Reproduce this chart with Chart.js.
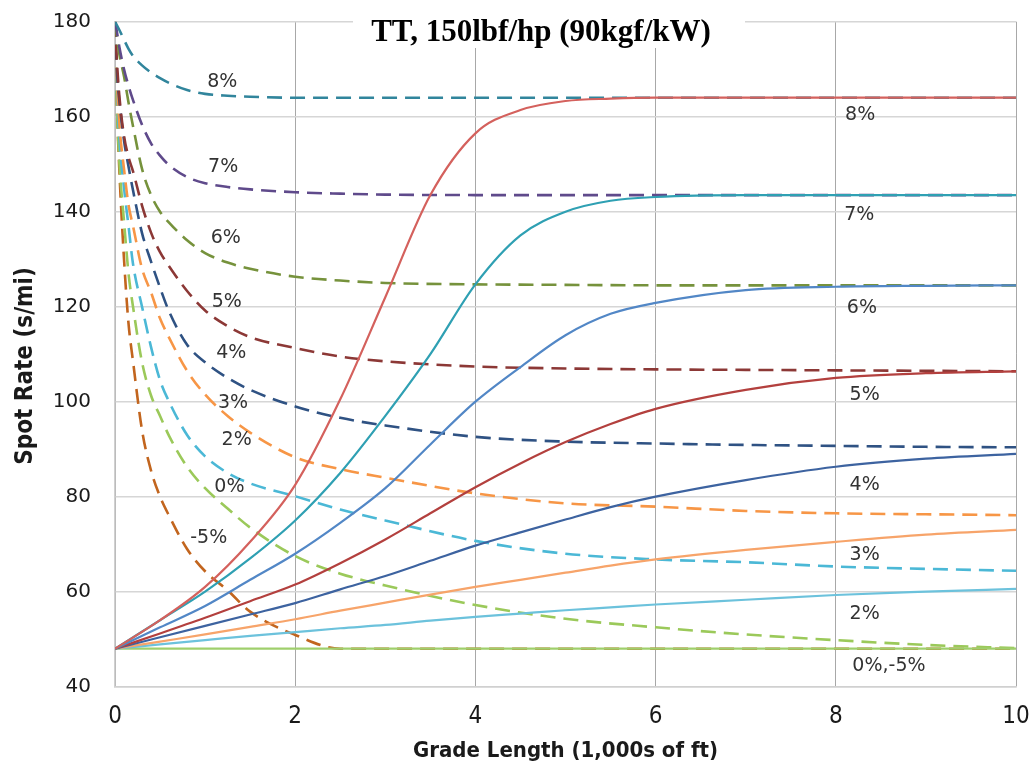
<!DOCTYPE html>
<html>
<head>
<meta charset="utf-8">
<script src="https://cdn.jsdelivr.net/npm/chart.js@4.4.1/dist/chart.umd.min.js"></script>
<style>
  html, body { margin: 0; padding: 0; background: #fff; }
</style>
</head>
<body>
<canvas id="myChart" width="1034" height="767"></canvas>
<script>
// grade length, 1,000s of ft
const decelX = [0, 0.5, 1, 1.5, 2, 2.5, 3, 3.5, 4, 4.5, 5, 5.5, 6, 7, 8, 9, 10];
const accelX = [0, 0.02, 0.05, 0.1, 0.15, 0.2, 0.3, 0.4, 0.5, 0.6, 0.8, 1, 1.25, 1.5, 2, 2.5, 3, 4, 5, 6, 7, 8, 9, 10];

// entering at speed (solid), s/mi
const decel8 = [48, 54, 61, 70.5, 82.5, 100.5, 122, 143.5, 156.5, 161.4, 163.3, 163.8, 164, 164, 164, 164, 164];
const decel7 = [48, 54, 60, 67, 75, 85, 97, 110, 124.7, 135, 140, 142.3, 143.1, 143.5, 143.5, 143.5, 143.5];
const decel6 = [48, 52.5, 57, 62.5, 68, 74.5, 81.8, 91, 100, 107.3, 114, 118.5, 120.8, 123.5, 124.2, 124.4, 124.5];
const decel5 = [48, 51.2, 54.5, 58, 61.5, 66, 71, 76.5, 82, 87, 91.5, 95.3, 98.5, 102.5, 105, 106, 106.4];
const decel4 = [48, 50.4, 52.8, 55.2, 57.6, 60.5, 63.3, 66.5, 69.7, 72.5, 75.2, 77.8, 80, 83.5, 86.3, 88, 89];
const decel3 = [48, 49.5, 51, 52.6, 54.2, 56, 57.7, 59.4, 61, 62.5, 64, 65.5, 66.8, 68.8, 70.5, 72, 73];
const decel2 = [48, 48.9, 49.8, 50.7, 51.5, 52.3, 53, 53.9, 54.7, 55.4, 56.1, 56.7, 57.3, 58.3, 59.3, 60, 60.6];
const decel0 = [48, 48, 48, 48, 48, 48, 48, 48, 48, 48, 48, 48, 48, 48, 48, 48, 48];

// entering from crawl (dashed), s/mi
const accel8 = [180, 179.3, 178.2, 176.2, 174.3, 172.8, 170.8, 169.3, 168.1, 167.1, 165.6, 164.8, 164.4, 164.2, 164, 164, 164, 164, 164, 164, 164, 164, 164, 164];
const accel7 = [180, 178, 174.5, 170, 166.5, 163.5, 158.3, 154.4, 151.8, 149.8, 147.3, 146, 145.2, 144.7, 144.1, 143.8, 143.6, 143.5, 143.5, 143.5, 143.5, 143.5, 143.5, 143.5];
const accel6 = [180, 177, 173, 168.5, 163, 158, 149, 143.5, 140, 137.7, 134, 131.3, 129.3, 128, 126.3, 125.5, 125, 124.7, 124.6, 124.5, 124.5, 124.5, 124.5, 124.5];
const accel5 = [180, 172, 164, 156, 151.5, 148.5, 141.3, 135.6, 131.5, 128.5, 123.3, 119.2, 115.9, 113.6, 111.3, 109.5, 108.5, 107.4, 107, 106.8, 106.7, 106.6, 106.5, 106.4];
const accel4 = [180, 170, 163, 155, 149.5, 144.5, 135.5, 129.5, 124, 119, 112, 108.3, 105, 102.5, 99, 96.6, 95, 92.6, 91.6, 91.2, 90.9, 90.7, 90.5, 90.4];
const accel3 = [180, 168, 158, 149, 141.4, 137, 128, 123, 117.5, 113.5, 106.5, 101.5, 97, 93.5, 88.3, 85.8, 84, 80.7, 78.6, 77.9, 77, 76.5, 76.3, 76.1];
const accel2 = [180, 166, 155, 145, 137, 129, 120, 111.5, 104.5, 100, 93, 88.5, 85, 82.8, 80.1, 77.3, 75, 70.7, 68, 66.8, 66.2, 65.3, 64.8, 64.4];
const accel0 = [180, 163, 150, 138, 127, 120, 108.3, 101.3, 97, 92.8, 86.3, 81.8, 77.5, 73.5, 67.5, 63.8, 61.3, 57.2, 54.3, 52.5, 51, 49.8, 48.8, 48.1];
const accelM5 = [180, 163, 148, 130, 116.5, 108.5, 94, 85.5, 80, 76, 69, 64.3, 60.3, 55.8, 50.9, 48, 48, 48, 48, 48, 48, 48, 48, 48];

const xTicks = [0, 2, 4, 6, 8, 10];
const yTicks = [40, 60, 80, 100, 120, 140, 160, 180];

// curve labels, placed in data units
const noteText = ['8%', '7%', '6%', '5%', '4%', '3%', '2%', '0%', '-5%',
                  '8%', '7%', '6%', '5%', '4%', '3%', '2%', '0%,-5%'];
const noteX = [1.19, 1.2, 1.23, 1.24, 1.29, 1.31, 1.35, 1.27, 1.04,
               8.27, 8.26, 8.29, 8.32, 8.32, 8.32, 8.32, 8.59];
const noteY = [167.2, 149.3, 134.5, 121.0, 110.3, 99.7, 91.9, 82.1, 71.2,
               160.3, 139.2, 119.8, 101.4, 82.5, 67.8, 55.2, 44.3];

function pts(xs, ys) {
  return xs.map((x, i) => ({x: x, y: ys[i]}));
}

function solid(ys, color) {
  return { data: pts(decelX, ys), borderColor: color, borderWidth: 2.2,
           pointRadius: 0, cubicInterpolationMode: 'monotone', fill: false };
}

function dashed(ys, color) {
  return { data: pts(accelX, ys), borderColor: color, borderWidth: 2.6,
           borderDash: [15, 8], pointRadius: 0, cubicInterpolationMode: 'monotone', fill: false };
}

const notesPlugin = {
  id: 'notes',
  afterDatasetsDraw(chart) {
    const c = chart.ctx, sx = chart.scales.x, sy = chart.scales.y;
    c.save();
    c.font = '19px "DejaVu Sans"';
    c.fillStyle = '#333';
    c.textAlign = 'center';
    c.textBaseline = 'middle';
    noteText.forEach((t, i) => {
      c.fillText(t, sx.getPixelForValue(noteX[i]), sy.getPixelForValue(noteY[i]));
    });
    c.restore();
  },
  afterDraw(chart) {
    const c = chart.ctx;
    c.save();
    // chart title sits over the top border
    c.fillStyle = '#fff';
    c.fillRect(353, 10, 392, 38);
    c.font = 'bold 31px "Liberation Serif"';
    c.fillStyle = '#000';
    c.textAlign = 'center';
    c.textBaseline = 'middle';
    c.fillText('TT, 150lbf/hp (90kgf/kW)', 541, 33);
    // y axis title
    c.translate(26, 366);
    c.rotate(-Math.PI / 2);
    c.font = 'bold 24px "DejaVu Sans Condensed"';
    c.fillStyle = '#1a1a1a';
    c.fillText('Spot Rate (s/mi)', 0, 0);
    c.restore();
  }
};

const ctx = document.getElementById('myChart');

new Chart(ctx, {
  type: 'line',
  data: {
    datasets: [
      solid(decel8, '#d4615d'),
      solid(decel7, '#2fa0b3'),
      solid(decel6, '#5287c6'),
      solid(decel5, '#b3403e'),
      solid(decel4, '#3d63a0'),
      solid(decel3, '#f7a46a'),
      solid(decel2, '#6cc2dc'),
      solid(decel0, '#9fcf6c'),
      dashed(accel8, '#31859c'),
      dashed(accel7, '#5f4a8b'),
      dashed(accel6, '#76923c'),
      dashed(accel5, '#8c3836'),
      dashed(accel4, '#2f5283'),
      dashed(accel3, '#f79646'),
      dashed(accel2, '#4bb8d6'),
      dashed(accel0, '#9bc95a'),
      dashed(accelM5, '#c2651e')
    ]
  },
  options: {
    responsive: false,
    animation: false,
    layout: { padding: { top: 21.7, right: 18, left: 0, bottom: 0 } },
    plugins: { legend: { display: false }, tooltip: { enabled: false } },
    scales: {
      x: {
        type: 'linear', min: 0, max: 10,
        afterBuildTicks: s => { s.ticks = xTicks.map(v => ({value: v})); },
        afterFit: s => { s.height = 80.3; s.paddingLeft = 0; s.paddingRight = 0; },
        ticks: { color: '#1a1a1a', padding: 16, font: { family: 'DejaVu Sans Condensed', size: 24 } },
        grid: { color: '#a8a8a8', lineWidth: 1, drawTicks: false },
        border: { color: '#d0d0d0', width: 1.5 },
        title: { display: true, text: 'Grade Length (1,000s of ft)', color: '#1a1a1a',
                 padding: { top: 0, bottom: 3 },
                 font: { family: 'DejaVu Sans Condensed', size: 22, weight: 'bold' } }
      },
      y: {
        min: 40, max: 180,
        afterBuildTicks: s => { s.ticks = yTicks.map(v => ({value: v})); },
        afterFit: s => { s.width = 115; s.paddingTop = 0; s.paddingBottom = 0; },
        ticks: { color: '#1a1a1a', padding: 24, font: { family: 'DejaVu Sans', size: 20 } },
        grid: { color: '#d6d6d6', lineWidth: 1.5, drawTicks: false },
        border: { color: '#d0d0d0', width: 1.5 }
      }
    }
  },
  plugins: [notesPlugin]
});
</script>
</body>
</html>
